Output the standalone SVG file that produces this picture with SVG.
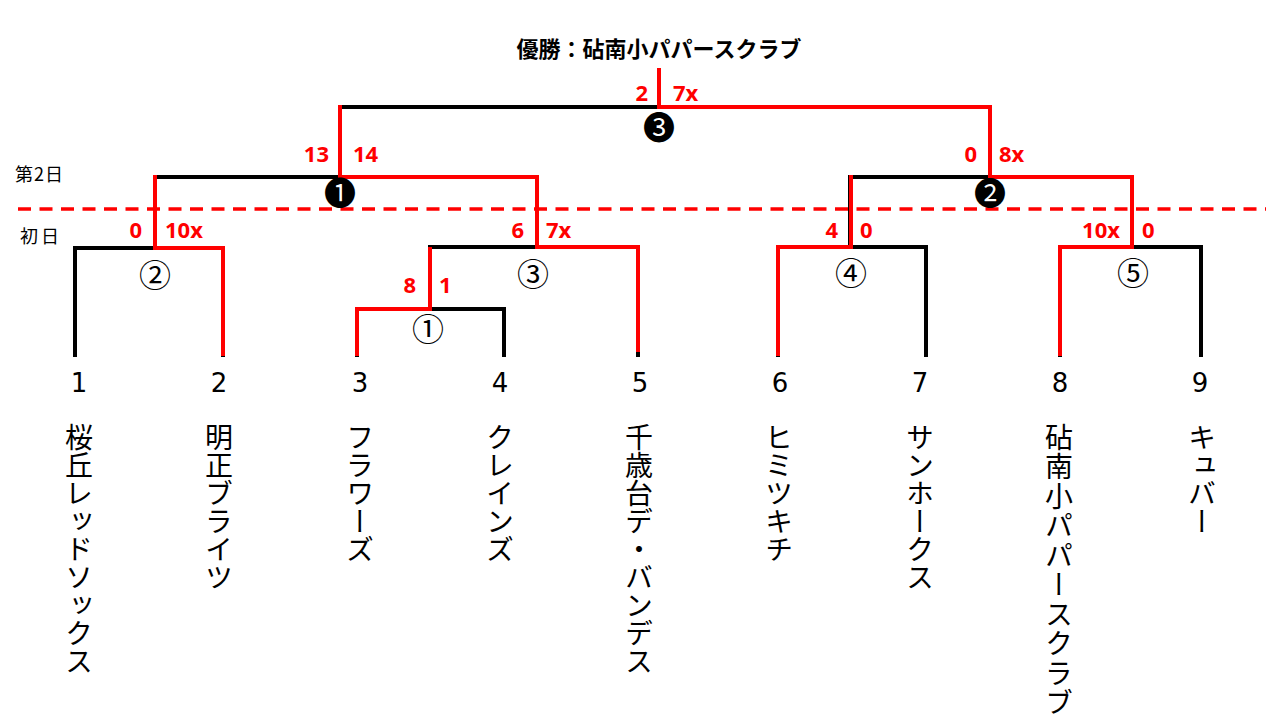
<svg xmlns="http://www.w3.org/2000/svg" width="1280" height="720" viewBox="0 0 1280 720">
<style>
.bk{fill:none;stroke:#000;stroke-width:4;stroke-linejoin:miter;stroke-linecap:butt}
.rd{fill:none;stroke:#ff0000;stroke-width:4;stroke-linejoin:miter;stroke-linecap:butt}
.dash{fill:none;stroke:#ff0000;stroke-width:3.5;stroke-dasharray:13 8.5}
.sc{font-family:"Open Sans","Liberation Sans",sans-serif;font-weight:700;font-size:22px;fill:#ff0000}
.scl{text-anchor:end}
.cn{font-family:"Noto Sans CJK JP",sans-serif;font-size:32px;fill:#000;text-anchor:middle}
.num{font-family:"DejaVu Sans","Liberation Sans",sans-serif;font-size:26px;fill:#000;text-anchor:middle}
.name{font-family:"Noto Sans CJK JP",sans-serif;font-size:28px;fill:#000;writing-mode:vertical-rl;text-orientation:mixed}
.day{font-family:"Noto Sans CJK JP",sans-serif;font-size:18px;fill:#000}
.title{font-family:"Noto Sans CJK JP",sans-serif;font-weight:700;font-size:22px;fill:#000;text-anchor:middle}
</style>

<g id="title"><text class="title" x="659" y="57">優勝：砧南小パパースクラブ</text></g>

<g id="day-labels">
<text class="day" x="15" y="181" letter-spacing="1">第2日</text>
<text class="day" x="20" y="243" letter-spacing="3">初日</text>
</g>

<g id="connectors">
<line class="dash" x1="18" y1="209" x2="1266" y2="209"/>
<path class="bk" d="M75,357V248H223V357"/>
<path class="bk" d="M357,357V309H504V357"/>
<path class="bk" d="M430,309V247H638V357"/>
<path class="bk" d="M778,357V247H926V357"/>
<path class="bk" d="M1060,357V247H1201V357"/>
<path class="bk" d="M155,248V177H537V247"/>
<path class="bk" d="M850,247V177H1132V247"/>
<path class="bk" d="M340,177V107H990V177"/>
<path class="bk" d="M659,107V69"/>
<path class="rd" d="M223,356V248H155V175"/>
<path class="rd" d="M357,356V309H430V247"/>
<path class="rd" d="M638,352V247H537V177H340V105"/>
<path class="rd" d="M778,356V247H851V175"/>
<path class="rd" d="M1060,356V247H1132V177H990V107H659V68"/>
</g>

<g id="match-labels">
<text class="cn" x="155" y="287">②</text>
<text class="cn" x="533" y="286">③</text>
<text class="cn" x="428" y="341">①</text>
<text class="cn" x="851" y="285">④</text>
<text class="cn" x="1133" y="285">⑤</text>
<text class="cn" x="340" y="205">❶</text>
<text class="cn" x="990" y="205">❷</text>
<text class="cn" x="659" y="139">❸</text>
</g>

<g id="scores">
<text class="sc scl" x="648" y="101">2</text><text class="sc" x="673" y="101">7x</text>
<text class="sc scl" x="329" y="162">13</text><text class="sc" x="353" y="162">14</text>
<text class="sc scl" x="977" y="162">0</text><text class="sc" x="999" y="162">8x</text>
<text class="sc scl" x="142" y="238">0</text><text class="sc" x="165" y="238">10x</text>
<text class="sc scl" x="524" y="238">6</text><text class="sc" x="546" y="238">7x</text>
<text class="sc scl" x="416" y="293">8</text><text class="sc" x="439" y="293">1</text>
<text class="sc scl" x="838" y="238">4</text><text class="sc" x="860" y="238">0</text>
<text class="sc scl" x="1120" y="238">10x</text><text class="sc" x="1142" y="238">0</text>
</g>

<g id="team-1"><text class="num" x="79" y="392">1</text><text class="name" x="79" y="423">桜丘レッドソックス</text></g>
<g id="team-2"><text class="num" x="219" y="392">2</text><text class="name" x="219" y="423">明正ブライツ</text></g>
<g id="team-3"><text class="num" x="360" y="392">3</text><text class="name" x="360" y="423">フラワーズ</text></g>
<g id="team-4"><text class="num" x="500" y="392">4</text><text class="name" x="500" y="423">クレインズ</text></g>
<g id="team-5"><text class="num" x="640" y="392">5</text><text class="name" x="639" y="423">千歳台デ・バンデス</text></g>
<g id="team-6"><text class="num" x="780" y="392">6</text><text class="name" x="779" y="423">ヒミツキチ</text></g>
<g id="team-7"><text class="num" x="920" y="392">7</text><text class="name" x="920" y="423">サンホークス</text></g>
<g id="team-8"><text class="num" x="1060" y="392">8</text><text class="name" x="1059" y="423" letter-spacing="1.5">砧南小パパースクラブ</text></g>
<g id="team-9"><text class="num" x="1200" y="392">9</text><text class="name" x="1202" y="423">キュバー</text></g>
</svg>
